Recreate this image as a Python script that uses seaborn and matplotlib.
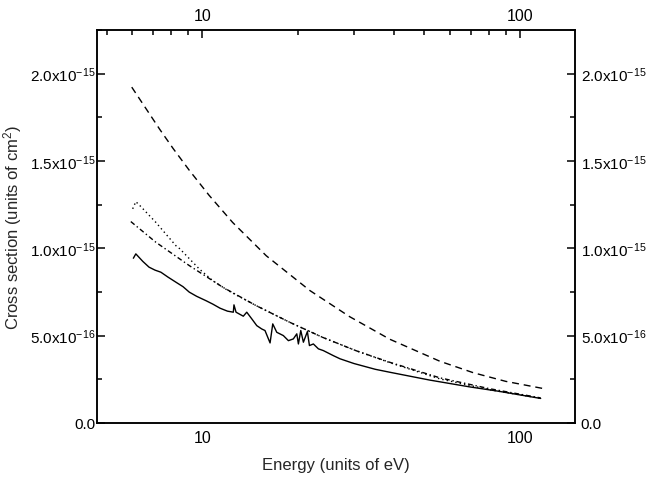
import numpy as np
import matplotlib
matplotlib.use("Agg")
import matplotlib.pyplot as plt
from matplotlib.ticker import FixedLocator, NullFormatter, LogLocator
import seaborn as sns

# energies (eV) and cross sections (units of 1e-15 cm^2)
dashed_e = [6.0, 7.35, 8.1, 9.1, 10.5, 12.46, 15.9, 21.8, 29.1, 38.9, 55.9, 71.3, 90.0, 118.0]
dashed_xs = [1.923, 1.681, 1.571, 1.447, 1.304, 1.148, 0.957, 0.758, 0.608, 0.479, 0.353, 0.287, 0.238, 0.197]

dashdot_e = [5.96, 7.14, 9.10, 11.6, 14.76, 18.8, 23.9, 30.5, 38.9, 55.9, 80.0, 116.0]
dashdot_xs = [1.153, 1.035, 0.901, 0.777, 0.672, 0.577, 0.490, 0.413, 0.347, 0.258, 0.196, 0.143]

dotted_e = [6.04, 6.18, 6.4, 7.14, 8.26, 8.5, 9.78, 10.78, 12.0, 14.76, 18.8, 23.9,
            30.5, 38.9, 55.9, 80.0, 116.0]
dotted_xs = [1.226, 1.267, 1.240, 1.149, 1.015, 0.997, 0.882, 0.815, 0.760, 0.672, 0.577, 0.490,
             0.413, 0.345, 0.252, 0.190, 0.141]

solid_e = [6.07, 6.18, 6.5, 6.8, 7.1, 7.41, 7.8, 8.26, 8.7, 9.10, 9.6, 10.27, 10.8, 11.37,
           12.0, 12.52, 12.58, 12.77, 13.46, 13.80, 14.31, 14.84, 15.38, 15.75, 16.34, 16.66,
           17.15, 17.99, 18.66, 19.34, 19.83, 20.06, 20.41, 20.80, 21.41, 21.73, 22.36, 23.19,
           24.04, 25.85, 27.13, 30.0, 35.0, 38.9, 52.0, 70.0, 85.0, 100.0, 116.0]
solid_xs = [0.943, 0.968, 0.925, 0.892, 0.875, 0.863, 0.835, 0.806, 0.780, 0.749, 0.725, 0.700,
            0.680, 0.657, 0.640, 0.634, 0.676, 0.634, 0.611, 0.634, 0.596, 0.557, 0.538, 0.529,
            0.458, 0.567, 0.519, 0.500, 0.471, 0.481, 0.510, 0.452, 0.529, 0.462, 0.523, 0.443,
            0.452, 0.424, 0.414, 0.385, 0.367, 0.340, 0.307, 0.290, 0.245, 0.205, 0.182, 0.160,
            0.140]

y_ticks = [0.0, 5e-16, 1e-15, 1.5e-15, 2e-15]
y_ticklabels = ["0.0", "5.0x10$^{-16}$", "1.0x10$^{-15}$", "1.5x10$^{-15}$", "2.0x10$^{-15}$"]
x_ticks = [10, 100]
x_ticklabels = ["10", "100"]

sns.set_style("white")
plt.rcParams["font.family"] = ["Liberation Sans", "DejaVu Sans"]
plt.rcParams["mathtext.fontset"] = "custom"
plt.rcParams["mathtext.rm"] = "Liberation Sans"
plt.rcParams["mathtext.it"] = "Liberation Sans:italic"

fig = plt.figure(figsize=[6.5, 4.85], dpi=100)
ax = fig.add_axes([0.149, 0.126, 0.736, 0.810])

scale = 1e-15
sns.lineplot(x=dashed_e, y=np.array(dashed_xs) * scale, ax=ax, color="black",
             lw=1.0, linestyle=(0, (5, 3.5)))
sns.lineplot(x=dotted_e, y=np.array(dotted_xs) * scale, ax=ax, color="black",
             lw=1.0, linestyle=(0, (1, 2.2)))
sns.lineplot(x=dashdot_e, y=np.array(dashdot_xs) * scale, ax=ax, color="black",
             lw=1.0, linestyle=(0, (3.5, 2, 1, 2)))
sns.lineplot(x=solid_e, y=np.array(solid_xs) * scale, ax=ax, color="black", lw=1.0)

ax.set_xscale("log")
ax.set_xlim(4.66, 149)
ax.set_ylim(0, 2.25e-15)
ax.set_xticks(x_ticks)
ax.set_xticklabels(x_ticklabels)
ax.xaxis.set_minor_locator(LogLocator(base=10, subs=np.arange(2, 10)))
ax.xaxis.set_minor_formatter(NullFormatter())
ax.set_yticks(y_ticks)
ax.set_yticklabels(y_ticklabels)
ax.yaxis.set_minor_locator(FixedLocator(np.arange(0, 2.26e-15, 2.5e-16)))

# right-hand copy of the y axis, with its own label spacing
ax2 = ax.twinx()
ax2.set_ylim(ax.get_ylim())
ax2.set_yticks(y_ticks)
ax2.set_yticklabels(y_ticklabels)
ax2.yaxis.set_minor_locator(FixedLocator(np.arange(0, 2.26e-15, 2.5e-16)))
ax2.grid(False)

for a in (ax, ax2):
    for side in a.spines.values():
        side.set_linewidth(1.1)
        side.set_color("black")

ax.tick_params(which="both", direction="in", top=True, right=False,
               labeltop=True, colors="black", labelsize=11, width=1.1)
ax.tick_params(which="major", length=6)
ax.tick_params(which="minor", length=3.5)
ax.tick_params(axis="x", which="major", pad=5, labelsize=11.5)
ax.tick_params(axis="y", which="major", pad=1)
ax2.tick_params(which="both", direction="in", colors="black", labelsize=11, width=1.1)
ax2.tick_params(which="major", length=6, pad=4)
ax2.tick_params(which="minor", length=3.5)

ax.set_xlabel("Energy (units of eV)", fontsize=12, labelpad=9)
ax.set_ylabel("Cross section (units of cm$^{2}$)", fontsize=12)
ax.yaxis.set_label_coords(-0.152, 0.5)

fig.savefig("out.png", dpi=100)
